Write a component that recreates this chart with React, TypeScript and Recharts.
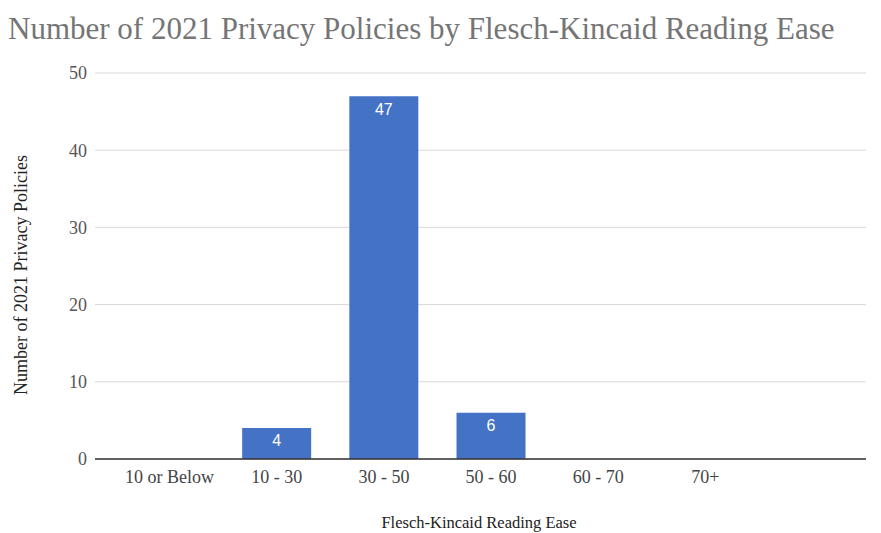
import { Bar, BarChart, CartesianGrid, LabelList, XAxis, YAxis } from "recharts";

const categories = ["10 or Below", "10 - 30", "30 - 50", "50 - 60", "60 - 70", "70+"];
const policyCounts = [0, 4, 47, 6, 0, 0];
const yTicks = [0, 10, 20, 30, 40, 50];

const data = categories.map((range, i) => ({ range, count: policyCounts[i] }));

const serif = '"Liberation Serif", "Times New Roman", serif';

export default function App() {
  return (
    <div style={{ position: "absolute", left: 0, top: 0, width: 881, height: 533, background: "#fff", fontFamily: serif }}>
      <div style={{ position: "absolute", left: 8, top: 11, fontSize: 31, color: "#757575", whiteSpace: "nowrap" }}>
        Number of 2021 Privacy Policies by Flesch-Kincaid Reading Ease
      </div>
      <div
        style={{
          position: "absolute",
          left: 21,
          top: 275,
          transform: "translate(-50%, -50%) rotate(-90deg)",
          fontSize: 18,
          color: "#222",
          whiteSpace: "nowrap",
        }}
      >
        Number of 2021 Privacy Policies
      </div>
      <div style={{ position: "absolute", left: 479, top: 523, transform: "translate(-50%, -50%)", fontSize: 16.5, color: "#222", whiteSpace: "nowrap" }}>
        Flesch-Kincaid Reading Ease
      </div>
      <BarChart width={881} height={533} data={data} margin={{ top: 73, right: 15, bottom: 40, left: 35 }}>
        <CartesianGrid vertical={false} stroke="#d9d9d9" />
        <XAxis
          dataKey="range"
          tickLine={false}
          axisLine={{ stroke: "#333", strokeWidth: 1.5 }}
          tick={{ fill: "#444", fontSize: 18, fontFamily: serif }}
          tickMargin={5}
          padding={{ left: 21, right: 107 }}
          height={34}
        />
        <YAxis
          domain={[0, 50]}
          ticks={yTicks}
          tickLine={false}
          axisLine={false}
          tick={{ fill: "#555", fontSize: 18, fontFamily: serif }}
          width={60}
        />
        <Bar dataKey="count" fill="#4472c4" barSize={69} isAnimationActive={false}>
          <LabelList
            dataKey="count"
            position="insideTop"
            offset={7}
            fill="#fff"
            fontSize={16}
            fontFamily='"Liberation Sans", Arial, sans-serif'
            formatter={(v: any) => (v ? v : "")}
          />
        </Bar>
      </BarChart>
    </div>
  );
}
